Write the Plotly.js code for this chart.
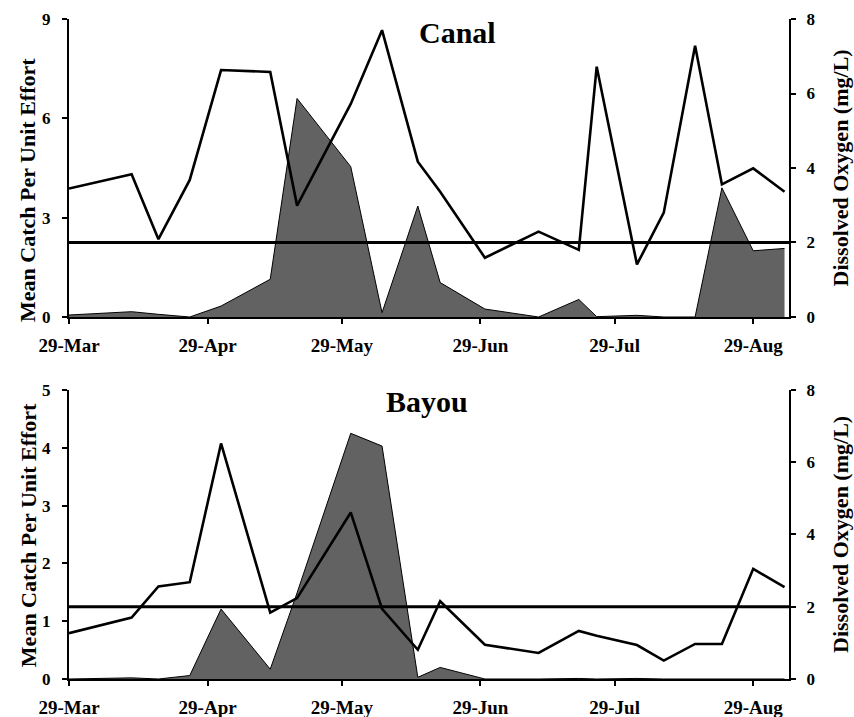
<!DOCTYPE html>
<html>
<head>
<meta charset="utf-8">
<script src="https://cdn.plot.ly/plotly-3.0.1.min.js"></script>
<style>html,body{margin:0;padding:0;background:#fff;}#chart{width:854px;height:717px;}</style>
</head>
<body>
<div id="chart"></div>
<script>
// ---- data ----
const sampleDates = ['2004-03-29','2004-04-12','2004-04-18','2004-04-25','2004-05-02','2004-05-13','2004-05-19','2004-05-31','2004-06-07','2004-06-15','2004-06-20','2004-06-30','2004-07-12','2004-07-21','2004-07-25','2004-08-03','2004-08-09','2004-08-16','2004-08-22','2004-08-29','2004-09-05'];
const canalCPUE = [0.06, 0.16, 0.08, 0, 0.33, 1.14, 6.6, 4.54, 0.13, 3.35, 1.04, 0.24, 0, 0.53, 0.01, 0.05, 0, 0, 3.9, 2.0, 2.07];
const canalDO   = [3.45, 3.83, 2.09, 3.68, 6.63, 6.58, 2.99, 5.72, 7.70, 4.17, 3.36, 1.59, 2.29, 1.80, 6.72, 1.41, 2.80, 7.28, 3.56, 3.99, 3.36];
const bayouCPUE = [0, 0.02, 0, 0.06, 1.21, 0.17, 1.49, 4.25, 4.03, 0.03, 0.2, 0, 0, 0.01, 0, 0.01, 0, 0, 0, 0, 0];
const bayouDO   = [1.27, 1.70, 2.56, 2.68, 6.52, 1.84, 2.24, 4.61, 1.94, 0.81, 2.15, 0.95, 0.72, 1.33, 1.2, 0.94, 0.51, 0.97, 0.97, 3.05, 2.54];
const tickDates = ['2004-03-29','2004-04-29','2004-05-29','2004-06-29','2004-07-29','2004-08-29'];
const tickLabels = ['29-Mar','29-Apr','29-May','29-Jun','29-Jul','29-Aug'];
const hypoxiaThreshold = 2;
const panelTitles = ['Canal','Bayou'];
const leftAxisTitle = 'Mean Catch Per Unit Effort';
const rightAxisTitle = 'Dissolved Oxygen (mg/L)';

// ---- styling ----
const FONT = 'Liberation Serif, Times New Roman, serif';
const xtickfont = {family: FONT, size: 19, color: '#000', weight: 'bold'};
const ytickfont = {family: FONT, size: 17, color: '#000', weight: 'bold'};
const areaStyle = {fill: 'tozeroy', fillcolor: 'rgb(98,98,98)', line: {color: '#000', width: 1}, mode: 'lines', hoverinfo: 'skip'};
const doStyle = {mode: 'lines', line: {color: '#000', width: 2.6}};

const traces = [
  Object.assign({x: sampleDates, y: canalCPUE, xaxis: 'x', yaxis: 'y', name: 'Canal CPUE'}, areaStyle),
  Object.assign({x: sampleDates, y: canalDO, xaxis: 'x', yaxis: 'y2', name: 'Canal DO'}, doStyle),
  Object.assign({x: sampleDates, y: bayouCPUE, xaxis: 'x2', yaxis: 'y3', name: 'Bayou CPUE'}, areaStyle),
  Object.assign({x: sampleDates, y: bayouDO, xaxis: 'x2', yaxis: 'y4', name: 'Bayou DO'}, doStyle)
];

function xAx(anchor) {
  return {
    type: 'date', anchor: anchor, range: ['2004-03-29', '2004-09-06'],
    tickmode: 'array', tickvals: tickDates, ticktext: tickLabels,
    showline: true, linecolor: '#000', linewidth: 2, mirror: false,
    ticks: 'outside', ticklen: 5, tickwidth: 2, tickcolor: '#000',
    showgrid: false, zeroline: false, tickfont: xtickfont, ticklabelstandoff: 5
  };
}
function yAx(anchor, domain, range, dtick, side, overlay) {
  const a = {
    anchor: anchor, range: range, dtick: dtick, tick0: 0, side: side,
    showline: true, linecolor: '#000', linewidth: 2,
    ticks: 'outside', ticklen: 5, tickwidth: 2, tickcolor: '#000',
    showgrid: false, zeroline: false, tickfont: ytickfont,
    ticklabelstandoff: side === 'left' ? 8 : 7
  };
  if (overlay) a.overlaying = overlay; else a.domain = domain;
  return a;
}

const topDom = [0.5485, 1], botDom = [0, 0.4379];
const titleFont = {family: FONT, size: 30, color: '#000', weight: 'bold'};
const axTitleFont = {family: FONT, size: 22, color: '#000', weight: 'bold'};

const layout = {
  width: 854, height: 717,
  margin: {l: 69, r: 65, t: 19, b: 38},
  paper_bgcolor: '#fff', plot_bgcolor: 'rgba(0,0,0,0)',
  showlegend: false,
  xaxis: xAx('y'),
  xaxis2: xAx('y3'),
  yaxis: yAx('x', topDom, [0, 9], 3, 'left'),
  yaxis2: yAx('x', null, [0, 8], 2, 'right', 'y'),
  yaxis3: yAx('x2', botDom, [0, 5], 1, 'left'),
  yaxis4: yAx('x2', null, [0, 8], 2, 'right', 'y3'),
  shapes: [
    {type: 'line', xref: 'x domain', x0: 0, x1: 1, yref: 'y2', y0: hypoxiaThreshold, y1: hypoxiaThreshold, line: {color: '#000', width: 3}},
    {type: 'line', xref: 'x2 domain', x0: 0, x1: 1, yref: 'y4', y0: hypoxiaThreshold, y1: hypoxiaThreshold, line: {color: '#000', width: 3}}
  ],
  annotations: [
    {text: panelTitles[0], xref: 'paper', yref: 'paper', x: 0.540, y: 0.980, xanchor: 'center', yanchor: 'middle', showarrow: false, font: titleFont},
    {text: panelTitles[1], xref: 'paper', yref: 'paper', x: 0.497, y: 0.420, xanchor: 'center', yanchor: 'middle', showarrow: false, font: titleFont},
    {text: leftAxisTitle, xref: 'paper', yref: 'paper', x: -0.0569, y: 0.741, xanchor: 'center', yanchor: 'middle', textangle: -90, showarrow: false, font: axTitleFont},
    {text: leftAxisTitle, xref: 'paper', yref: 'paper', x: -0.0569, y: 0.218, xanchor: 'center', yanchor: 'middle', textangle: -90, showarrow: false, font: axTitleFont},
    {text: rightAxisTitle, xref: 'paper', yref: 'paper', x: 1.0722, y: 0.775, xanchor: 'center', yanchor: 'middle', textangle: -90, showarrow: false, font: axTitleFont},
    {text: rightAxisTitle, xref: 'paper', yref: 'paper', x: 1.0722, y: 0.2197, xanchor: 'center', yanchor: 'middle', textangle: -90, showarrow: false, font: axTitleFont}
  ]
};

Plotly.newPlot('chart', traces, layout, {staticPlot: true, displayModeBar: false});
</script>
</body>
</html>
